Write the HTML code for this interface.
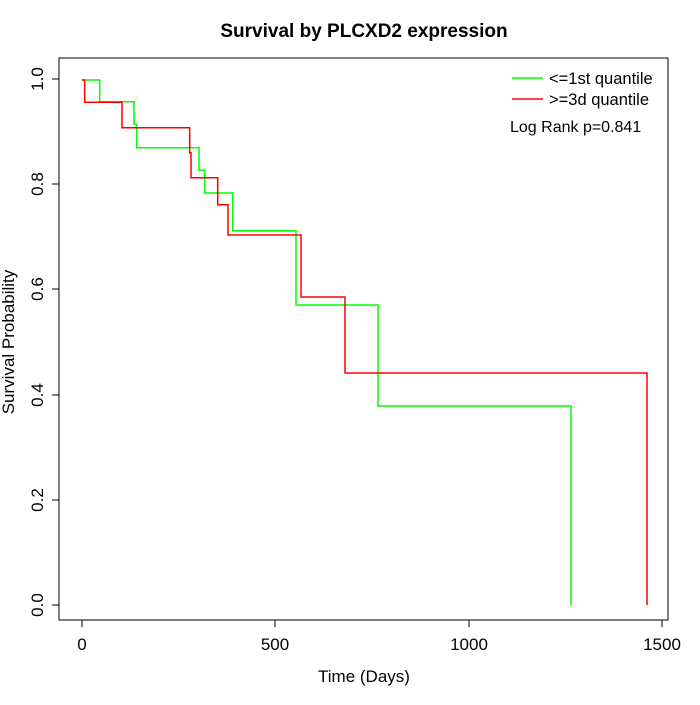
<!DOCTYPE html><html><head><style>body{margin:0;background:#fff}</style></head><body>
<svg width="700" height="700" xmlns="http://www.w3.org/2000/svg" font-family="Liberation Sans, sans-serif">
<rect width="700" height="700" fill="#fff"/>
<text x="364" y="37" font-size="19" font-weight="bold" text-anchor="middle">Survival by PLCXD2 expression</text>
<rect x="59" y="58" width="609" height="562" fill="none" stroke="#000"/>
<g stroke="#000" fill="none">
<line x1="82" y1="620" x2="662" y2="620"/>
<line x1="82" y1="620" x2="82" y2="627"/><line x1="275" y1="620" x2="275" y2="627"/><line x1="469" y1="620" x2="469" y2="627"/><line x1="662" y1="620" x2="662" y2="627"/>
<line x1="59" y1="79" x2="59" y2="605"/>
<line x1="59" y1="605" x2="52" y2="605"/><line x1="59" y1="500" x2="52" y2="500"/><line x1="59" y1="395" x2="52" y2="395"/><line x1="59" y1="289" x2="52" y2="289"/><line x1="59" y1="184" x2="52" y2="184"/><line x1="59" y1="79" x2="52" y2="79"/>
</g>
<g font-size="17" text-anchor="middle">
<text x="82" y="650">0</text><text x="275" y="650">500</text><text x="469" y="650">1000</text><text x="662" y="650">1500</text>
<text x="364" y="682">Time (Days)</text>
</g>
<g font-size="17" text-anchor="middle">
<text transform="translate(43,605) rotate(-90)">0.0</text>
<text transform="translate(43,500) rotate(-90)">0.2</text>
<text transform="translate(43,395) rotate(-90)">0.4</text>
<text transform="translate(43,289) rotate(-90)">0.6</text>
<text transform="translate(43,184) rotate(-90)">0.8</text>
<text transform="translate(43,79) rotate(-90)">1.0</text>
<text transform="translate(14,342) rotate(-90)">Survival Probability</text>
</g>
<polyline fill="none" stroke="#00ff00" stroke-width="1.5" points="82,80 99.7,80 99.7,101.7 134,101.7 134,124.3 136.7,124.3 136.7,147.7 199,147.7 199,170.3 204.7,170.3 204.7,193 232.7,193 232.7,230.7 296,230.7 296,305 378,305 378,406 571,406 571,605"/>
<polyline fill="none" stroke="#ff0000" stroke-width="1.5" points="82,80 84.7,80 84.7,102.3 122,102.3 122,127.7 189.7,127.7 189.7,152.7 191,152.7 191,177.7 217.7,177.7 217.7,204.7 228,204.7 228,235 301,235 301,297 345,297 345,373 647,373 647,605"/>
<line x1="512" y1="78" x2="543" y2="78" stroke="#00ff00" stroke-width="1.5"/>
<line x1="512" y1="99" x2="543" y2="99" stroke="#ff0000" stroke-width="1.5"/>
<g font-size="16.5"><text x="549" y="84">&lt;=1st quantile</text><text x="549" y="105">&gt;=3d quantile</text></g>
<text x="510" y="132" font-size="16">Log Rank p=0.841</text>
</svg></body></html>
